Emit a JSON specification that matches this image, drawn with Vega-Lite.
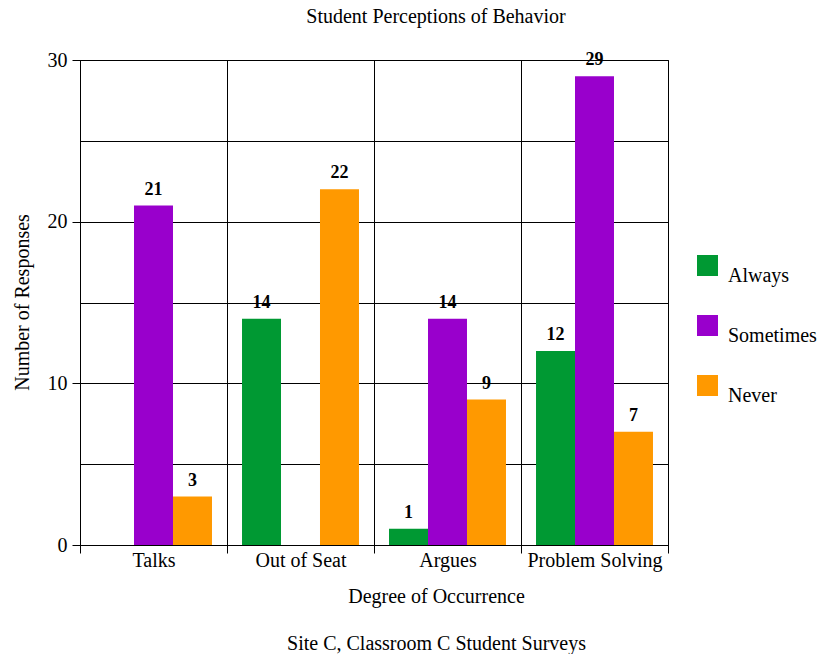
{
  "$schema": "https://vega.github.io/schema/vega-lite/v6.json",
  "width": 588,
  "height": 485,
  "autosize": {"type": "none"},
  "padding": {"left": 80, "top": 60, "right": 151, "bottom": 109},
  "background": "white",
  "title": {
    "text": "Student Perceptions of Behavior",
    "font": "Times New Roman, Liberation Serif, DejaVu Serif, serif",
    "fontSize": 20,
    "fontWeight": "normal",
    "color": "black",
    "anchor": "middle",
    "frame": "group",
    "dx": 62,
    "offset": 23
  },
  "config": {
    "font": "Times New Roman, Liberation Serif, DejaVu Serif, serif",
    "view": {"stroke": "black", "strokeWidth": 1},
    "axis": {
      "domainColor": "black",
      "tickColor": "black",
      "gridColor": "black",
      "gridOpacity": 1,
      "labelColor": "black",
      "titleColor": "black",
      "labelFont": "Times New Roman, Liberation Serif, DejaVu Serif, serif",
      "titleFont": "Times New Roman, Liberation Serif, DejaVu Serif, serif",
      "labelFontSize": 20,
      "titleFontSize": 20,
      "titleFontWeight": "normal"
    },
    "legend": {
      "labelFont": "Times New Roman, Liberation Serif, DejaVu Serif, serif",
      "labelFontSize": 20,
      "labelColor": "black"
    }
  },
  "data": {
    "values": [
      {"behavior": "Talks", "degree": "Sometimes", "count": 21},
      {"behavior": "Talks", "degree": "Never", "count": 3},
      {"behavior": "Out of Seat", "degree": "Always", "count": 14},
      {"behavior": "Out of Seat", "degree": "Never", "count": 22},
      {"behavior": "Argues", "degree": "Always", "count": 1},
      {"behavior": "Argues", "degree": "Sometimes", "count": 14},
      {"behavior": "Argues", "degree": "Never", "count": 9},
      {"behavior": "Problem Solving", "degree": "Always", "count": 12},
      {"behavior": "Problem Solving", "degree": "Sometimes", "count": 29},
      {"behavior": "Problem Solving", "degree": "Never", "count": 7}
    ]
  },
  "encoding": {
    "x": {
      "field": "behavior",
      "type": "nominal",
      "sort": ["Talks", "Out of Seat", "Argues", "Problem Solving"],
      "scale": {"paddingInner": 0, "paddingOuter": 0},
      "axis": {
        "title": ["Degree of Occurrence", "Site C, Classroom C Student Surveys"],
        "titleLineHeight": 47,
        "titleX": 356,
        "titleY": 41,
        "titleAlign": "center",
        "titleBaseline": "top",
        "labelAngle": 0,
        "grid": true,
        "tickBand": "extent",
        "tickSize": 8,
        "labelPadding": -3
      }
    },
    "xOffset": {
      "field": "degree",
      "type": "nominal",
      "sort": ["Always", "Sometimes", "Never"],
      "scale": {"domain": ["Always", "Sometimes", "Never"], "paddingInner": 0, "paddingOuter": 0.385}
    },
    "y": {
      "field": "count",
      "type": "quantitative",
      "scale": {"domain": [0, 30], "nice": false},
      "axis": {
        "title": "Number of Responses",
        "values": [0, 5, 10, 15, 20, 25, 30],
        "labelExpr": "datum.value % 10 === 0 ? datum.label : ''",
        "tickOpacity": {"condition": {"test": "datum.value % 10 === 0", "value": 1}, "value": 0},
        "tickSize": 8,
        "labelPadding": 5,
        "grid": true,
        "titleX": -58,
        "titleY": 242,
        "titleAngle": -90,
        "titleAlign": "center",
        "titleBaseline": "middle"
      }
    }
  },
  "layer": [
    {
      "mark": {"type": "bar"},
      "encoding": {
        "color": {
          "field": "degree",
          "type": "nominal",
          "sort": ["Always", "Sometimes", "Never"],
          "scale": {"domain": ["Always", "Sometimes", "Never"], "range": ["#009933", "#9900CC", "#FF9900"]},
          "legend": {
            "title": null,
            "orient": "none",
            "legendX": 617,
            "legendY": 195,
            "symbolType": "square",
            "symbolSize": 441,
            "symbolStrokeWidth": 0,
            "rowPadding": 29,
            "labelOffset": 10,
            "labelBaseline": "top",
            "direction": "vertical"
          }
        }
      }
    },
    {
      "mark": {"type": "text", "baseline": "alphabetic", "dy": -11, "fontWeight": "bold", "fontSize": 18, "font": "Times New Roman, Liberation Serif, DejaVu Serif, serif", "color": "black"},
      "encoding": {
        "text": {"field": "count", "type": "quantitative"}
      }
    }
  ]
}
